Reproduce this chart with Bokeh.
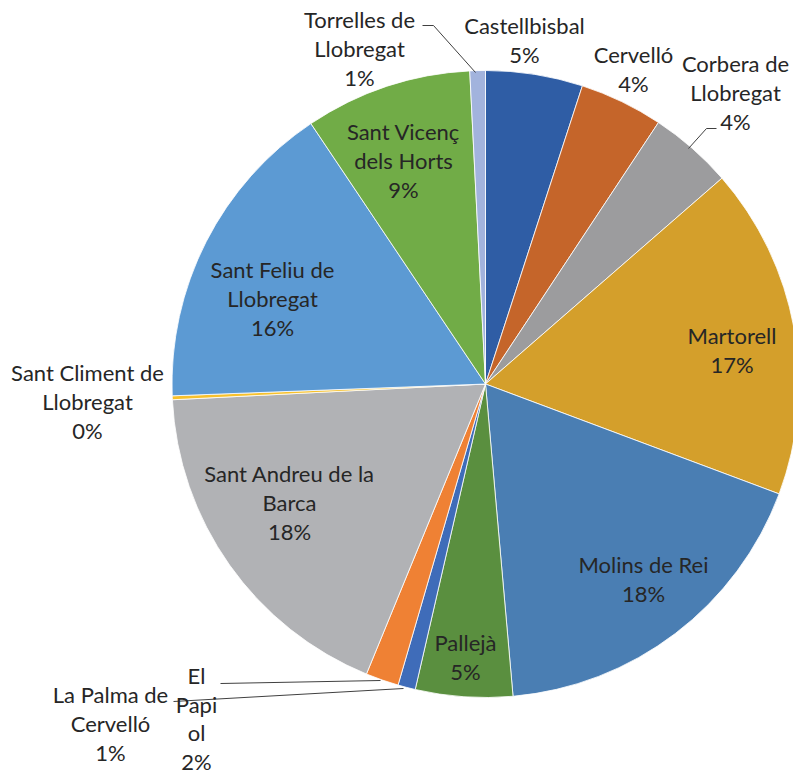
import math
from bokeh.plotting import figure
from bokeh.models import ColumnDataSource, Range1d
from bokeh.embed import file_html
from bokeh.resources import INLINE
from bokeh.core.properties import value

# ---------------- data ----------------
municipalities = [
    "Castellbisbal", "Cervelló", "Corbera de Llobregat", "Martorell",
    "Molins de Rei", "Pallejà", "La Palma de Cervelló", "El Papiol",
    "Sant Andreu de la Barca", "Sant Climent de Llobregat",
    "Sant Feliu de Llobregat", "Sant Vicenç dels Horts", "Torrelles de Llobregat",
]
shares = [5.0, 4.3, 4.3, 17.1, 17.9, 5.0, 0.9, 1.7, 18.0, 0.2, 16.2, 8.6, 0.8]
# label text as wrapped in the chart
label_text = [
    "Castellbisbal", "Cervelló", "Corbera de\nLlobregat", "Martorell",
    "Molins de Rei", "Pallejà", "La Palma de\nCervelló", "El\nPapi\nol",
    "Sant Andreu de la\nBarca", "Sant Climent de\nLlobregat",
    "Sant Feliu de\nLlobregat", "Sant Vicenç\ndels Horts", "Torrelles de\nLlobregat",
]

# ---------------- styles / layout ----------------
colors = ["#2F5DA5", "#C5652A", "#9C9C9E", "#D49F2B", "#4A7EB3", "#5A8F3F",
          "#3F6CB9", "#EF8134", "#B1B2B5", "#F7C12C", "#5C9AD3", "#71AC47", "#A2B3DD"]

W, H = 793, 774
def px(X, Y):
    # page pixel -> data coords
    return X, H - Y

CX, CY = px(485, 383.5)
R = 313.5

# label block placement: (centre x, first baseline y, line spacing) in page pixels
label_pos = {
    "Castellbisbal": (524, 33, 29),
    "Cervelló": (633, 62, 29),
    "Corbera de Llobregat": (735, 71, 29),
    "Martorell": (731.5, 343, 29),
    "Molins de Rei": (643, 572, 29),
    "Pallejà": (465, 650, 29),
    "La Palma de Cervelló": (110, 702, 29),
    "El Papiol": (196, 683, 28.5),
    "Sant Andreu de la Barca": (289, 481, 29),
    "Sant Climent de Llobregat": (87, 380, 29),
    "Sant Feliu de Llobregat": (272, 277, 29),
    "Sant Vicenç dels Horts": (403, 139, 29),
    "Torrelles de Llobregat": (359, 27, 29),
}
TEXT_DY = -8
leaders = {
    "Torrelles de Llobregat": [(422, 25), (433, 25), (475, 72)],
    "Corbera de Llobregat": [(716, 128), (706, 128), (688, 148)],
    "El Papiol": [(220, 683), (380, 680)],
    "La Palma de Cervelló": [(173, 701), (403, 688)],
}

FONT = "Lato"
FSIZE = "22px"
TCOL = "#262626"

# ---------------- wedges ----------------
total = sum(shares)
starts, ends = [], []
cum = 0.0
for s in shares:
    starts.append(math.pi / 2 - 2 * math.pi * cum / total)
    cum += s
    ends.append(math.pi / 2 - 2 * math.pi * cum / total)

src = ColumnDataSource(dict(name=municipalities, share=shares, color=colors,
                            start=starts, end=ends))

p = figure(width=W, height=H, x_range=Range1d(0, W), y_range=Range1d(0, H),
           output_backend="svg", toolbar_location=None, min_border=0,
           x_axis_location=None, y_axis_location=None)
p.outline_line_color = None
p.grid.visible = False
p.background_fill_color = "white"
p.border_fill_color = "white"

p.wedge(x=CX, y=CY, radius=R, start_angle="start", end_angle="end",
        direction="clock", fill_color="color", line_color="white",
        line_width=0.8, source=src)

# ---------------- leader lines ----------------
for name, pts in leaders.items():
    xs, ys = zip(*[px(a, b) for a, b in pts])
    p.line(list(xs), list(ys), line_color="#404040", line_width=1)

# ---------------- labels ----------------
tx, ty, tt = [], [], []
for name, lab, s in zip(municipalities, label_text, shares):
    pct = f"{round(s / total * 100)}%"
    lines = lab.split("\n") + [pct]
    X, Y, sp = label_pos[name]
    for i, ln in enumerate(lines):
        x, y = px(X, Y + i * sp + TEXT_DY)
        tx.append(x)
        ty.append(y)
        tt.append(ln)

p.text(x=tx, y=ty, text=tt, text_align="center", text_baseline="alphabetic",
       text_font=value(FONT), text_font_size=FSIZE, text_color=TCOL)

open("out.html", "w").write(file_html(p, INLINE))
